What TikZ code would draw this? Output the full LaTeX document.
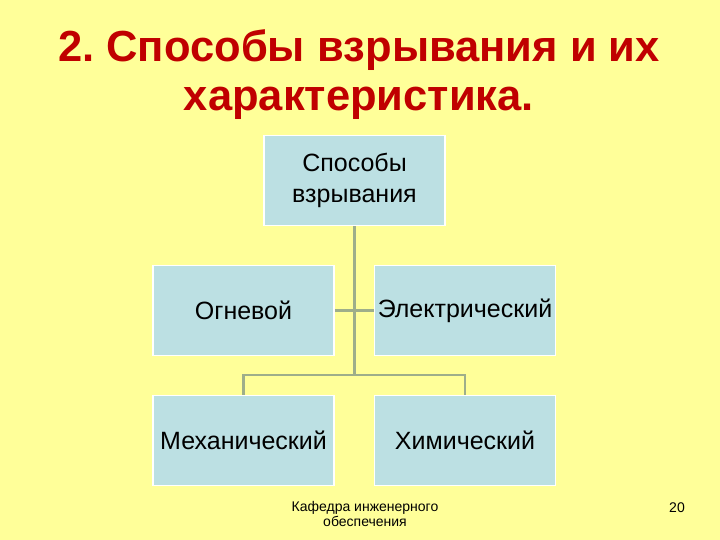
\documentclass[tikz,border=0pt]{standalone}
\usepackage{fontspec}
\setmainfont{Liberation Sans}
\usetikzlibrary{positioning}
\definecolor{slidebg}{HTML}{FFFF99}
\definecolor{boxfill}{HTML}{BCE0E3}
\definecolor{linkcol}{HTML}{9EAE8A}
\definecolor{titlered}{HTML}{C00000}
\tikzset{
  way/.style={rectangle,draw=white,line width=1.5pt,fill=boxfill,
    minimum width=181pt,minimum height=90pt,inner sep=0pt,
    align=center,font=\fontsize{25}{31}\selectfont},
  link/.style={draw=linkcol,line width=2.5pt}
}
\frenchspacing
\begin{document}
\begin{tikzpicture}[x=1pt,y=-1pt]
\fill[slidebg] (0,0) rectangle (720,540);
\useasboundingbox (0,0) rectangle (720,540);
\node[titlered,align=center,font=\fontsize{43.5}{49}\selectfont\bfseries] (title) at (359,75)
  {2. Способы взрывания и их\\характеристика.};
\node[way] (top) at (354.5,180.5) {Способы\\взрывания};
\node[way] (fire) at (243.5,310.5) {Огневой};
\node[way] (elec) at (465,310.5) {Электрический};
\node[way] (mech) at (243.5,440.5) {Механический};
\node[way] (chem) at (465,440.5) {Химический};
\coordinate (hub) at (354.5,375);
\draw[link] (top.south) -- (hub);
\draw[link] (mech.north) |- (hub) -| (chem.north);
\draw[link] (fire.east) -- (elec.west);
\node[align=center,font=\fontsize{14}{15}\selectfont] (dept) at (365,514)
  {Кафедра инженерного\\обеспечения};
\node[font=\fontsize{14}{15}\selectfont] (page) at (677,508) {20};
\end{tikzpicture}
\end{document}
